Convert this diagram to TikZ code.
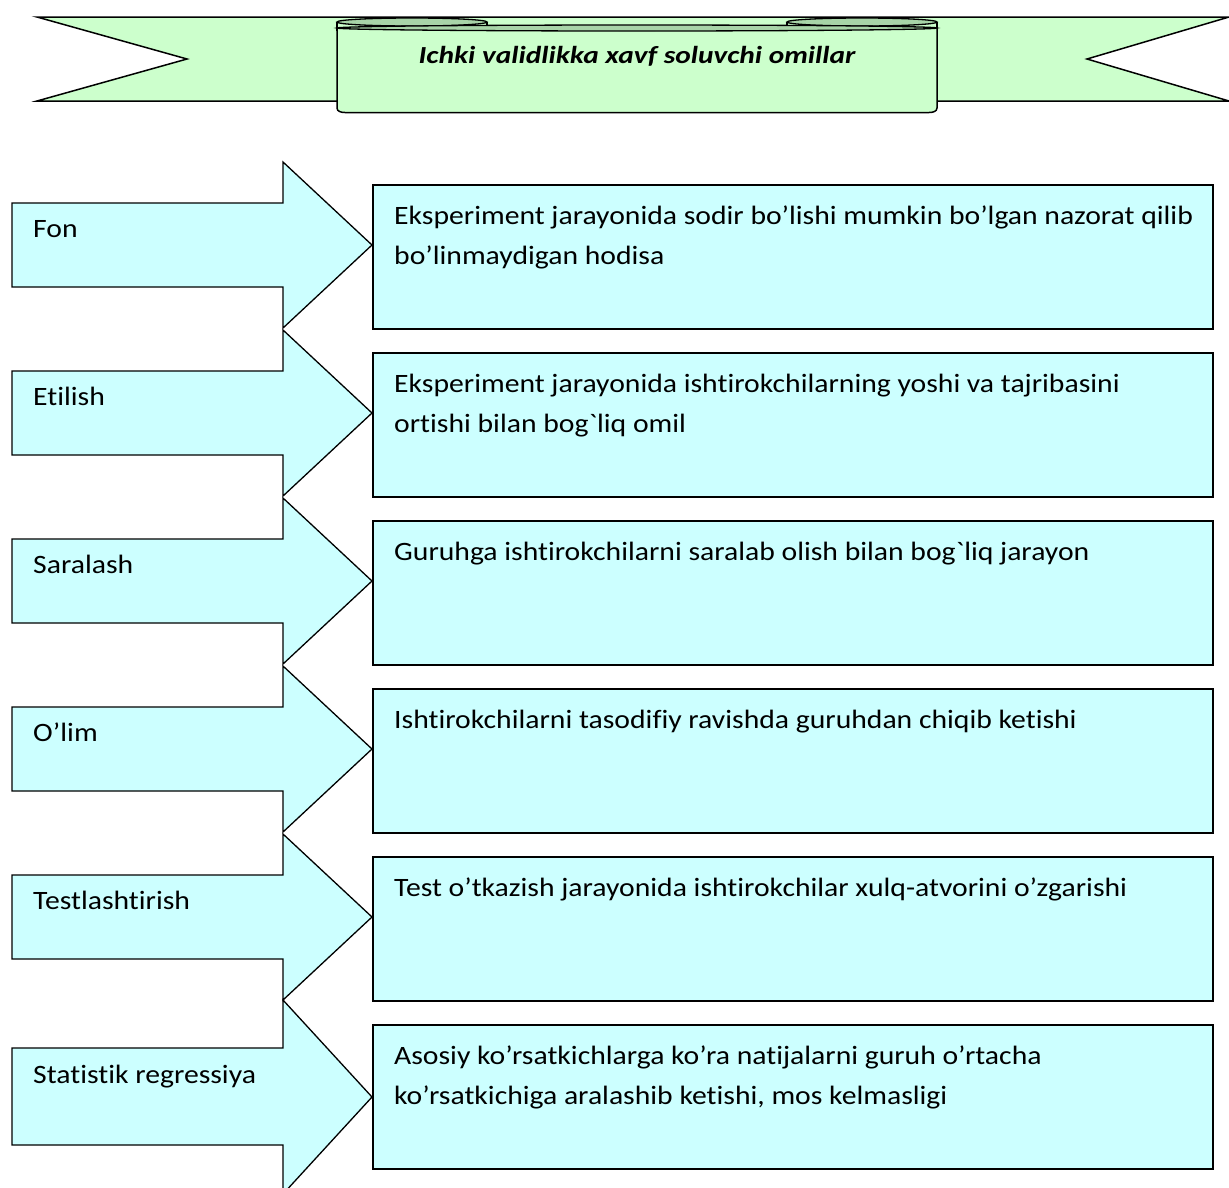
\documentclass[tikz,border=0pt]{standalone}
\usepackage{fontspec}
\usepackage{graphicx}
\setmainfont{Carlito}[Ligatures={NoCommon}]
\newcommand{\sx}[1]{\scalebox{1.12}[1]{#1}}
\newcommand{\sxt}[1]{\scalebox{1.2}[1]{#1}}
\begin{document}
\begin{tikzpicture}[x=1pt,y=-1pt]
\definecolor{cy}{HTML}{CCFFFF}
\definecolor{gr}{HTML}{CCFFCC}
\definecolor{grd}{HTML}{A8D4A8}
\tikzset{
  arr/.style={draw=black,fill=cy,line width=1.3pt,line join=miter},
  boxs/.style={draw=black,fill=cy,line width=1.5pt},
  ban/.style={draw=black,fill=gr,line width=1.5pt},
  roll/.style={draw=black,fill=grd,line width=1.3pt},
  lbl/.style={anchor=base west,inner sep=0pt,font=\fontsize{26.5}{40}\selectfont},
  ttl/.style={anchor=base,inner sep=0pt,font=\fontsize{24.5}{30}\selectfont\bfseries\itshape}
}
\useasboundingbox (0,0) rectangle (1229,1187);
\fill[white] (0,0) rectangle (1229,1187);
% banner band
\draw[ban] (37,17) -- (1229,17) -- (1087,59) -- (1229,101) -- (37,101) -- (187,59) -- cycle;
% back rolls
\draw[ban] (337,22) -- (337,30) -- (487,30) -- (487,22);
\draw[roll] (412,22) ellipse [x radius=75, y radius=4];
\draw[ban] (787,22) -- (787,30) -- (937,30) -- (937,22);
\draw[roll] (862,22) ellipse [x radius=75, y radius=4];
% front panel
\draw[ban] (337,28) -- (337,108) to[out=-90,in=180] (345,112.5) -- (929,112.5) to[out=0,in=-90] (937,108) -- (937,28);
\draw[roll] (637,28) ellipse [x radius=300, y radius=3];
\node[ttl] (title) at (637,63) {\sxt{Ichki validlikka xavf soluvchi omillar}};

% arrows
\foreach \i in {0,...,4}{
  \pgfmathsetmacro{\o}{168*\i}
  \draw[arr] (12,203+\o) -- (283,203+\o) -- (283,162+\o) -- (372,245+\o) -- (283,328+\o) -- (283,287+\o) -- (12,287+\o) -- cycle;
}
\draw[arr] (12,1048) -- (283,1048) -- (283,1000) -- (372,1097) -- (283,1194) -- (283,1145) -- (12,1145) -- cycle;

% boxes
\foreach \i in {0,...,5}{
  \pgfmathsetmacro{\o}{168*\i}
  \draw[boxs] (373,185+\o) rectangle (1213,329+\o);
}

% arrow labels
\node[lbl] (l1) at (33,237) {\sx{Fon}};
\node[lbl] (l2) at (33,405) {\sx{Etilish}};
\node[lbl] (l3) at (33,573) {\sx{Saralash}};
\node[lbl] (l4) at (33,741) {\sx{O’lim}};
\node[lbl] (l5) at (33,909) {\sx{Testlashtirish}};
\node[lbl] (l6) at (33,1083) {\sx{Statistik regressiya}};

% box texts
\node[lbl] (t1a) at (394,224) {\sx{Eksperiment jarayonida sodir bo’lishi mumkin bo’lgan nazorat qilib}};
\node[lbl] (t1b) at (394,264) {\sx{bo’linmaydigan hodisa}};
\node[lbl] (t2a) at (394,392) {\sx{Eksperiment jarayonida ishtirokchilarning yoshi va tajribasini}};
\node[lbl] (t2b) at (394,432) {\sx{ortishi bilan bog\textasciigrave liq omil}};
\node[lbl] (t3a) at (394,560) {\sx{Guruhga ishtirokchilarni saralab olish bilan bog\textasciigrave liq jarayon}};
\node[lbl] (t4a) at (394,728) {\sx{Ishtirokchilarni tasodifiy ravishda guruhdan chiqib ketishi}};
\node[lbl] (t5a) at (394,896) {\sx{Test o’tkazish jarayonida ishtirokchilar xulq-atvorini o’zgarishi}};
\node[lbl] (t6a) at (394,1064) {\sx{Asosiy ko’rsatkichlarga ko’ra natijalarni guruh o’rtacha}};
\node[lbl] (t6b) at (394,1104) {\sx{ko’rsatkichiga aralashib ketishi, mos kelmasligi}};
\end{tikzpicture}
\end{document}
